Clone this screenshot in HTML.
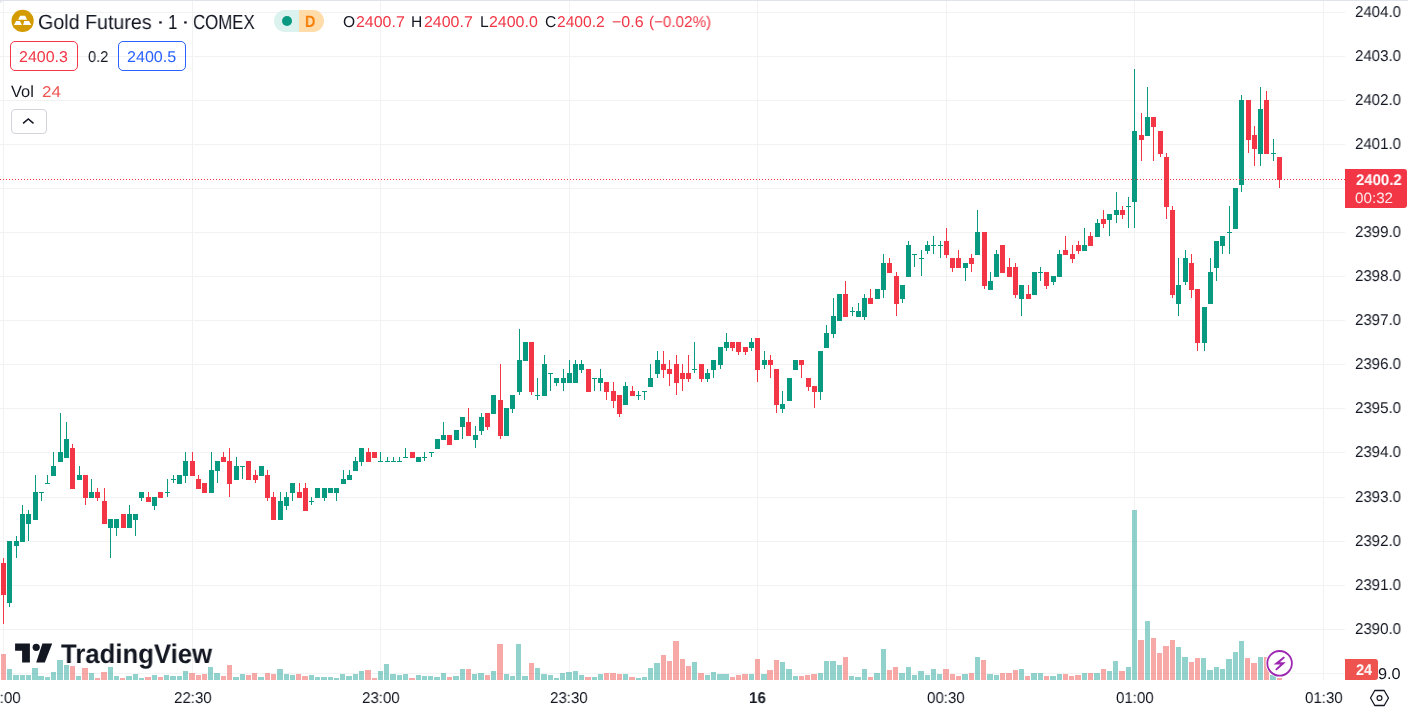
<!DOCTYPE html>
<html><head><meta charset="utf-8"><style>
*{margin:0;padding:0;box-sizing:border-box}
html,body{width:1408px;height:713px;overflow:hidden;background:#fff}
body{position:relative;font-family:"Liberation Sans",sans-serif;color:#131722;text-rendering:geometricPrecision}
.abs{position:absolute;white-space:nowrap}
.t{position:absolute;white-space:nowrap;transform-origin:0 0;color:#131722;will-change:transform}
</style></head><body>
<div class="abs" style="left:0;top:0;width:8px;height:8px;background:#e0e3eb"></div>
<div class="abs" style="left:0;top:1px;width:8px;height:8px;background:#fff;border-top-left-radius:4px"></div>
<svg class="abs" style="left:0;top:0" width="1408" height="713" shape-rendering="crispEdges">
<rect x="0" y="12" width="1345" height="1" fill="#f2f2f3"/>
<rect x="0" y="56" width="1345" height="1" fill="#f2f2f3"/>
<rect x="0" y="100" width="1345" height="1" fill="#f2f2f3"/>
<rect x="0" y="144" width="1345" height="1" fill="#f2f2f3"/>
<rect x="0" y="188" width="1345" height="1" fill="#f2f2f3"/>
<rect x="0" y="232" width="1345" height="1" fill="#f2f2f3"/>
<rect x="0" y="276" width="1345" height="1" fill="#f2f2f3"/>
<rect x="0" y="320" width="1345" height="1" fill="#f2f2f3"/>
<rect x="0" y="364" width="1345" height="1" fill="#f2f2f3"/>
<rect x="0" y="408" width="1345" height="1" fill="#f2f2f3"/>
<rect x="0" y="452" width="1345" height="1" fill="#f2f2f3"/>
<rect x="0" y="497" width="1345" height="1" fill="#f2f2f3"/>
<rect x="0" y="541" width="1345" height="1" fill="#f2f2f3"/>
<rect x="0" y="585" width="1345" height="1" fill="#f2f2f3"/>
<rect x="0" y="629" width="1345" height="1" fill="#f2f2f3"/>
<rect x="0" y="673" width="1345" height="1" fill="#f2f2f3"/>
<rect x="3" y="1" width="1" height="679" fill="#f2f2f3"/>
<rect x="192" y="1" width="1" height="679" fill="#f2f2f3"/>
<rect x="380" y="1" width="1" height="679" fill="#f2f2f3"/>
<rect x="569" y="1" width="1" height="679" fill="#f2f2f3"/>
<rect x="757" y="1" width="1" height="679" fill="#f2f2f3"/>
<rect x="946" y="1" width="1" height="679" fill="#f2f2f3"/>
<rect x="1134" y="1" width="1" height="679" fill="#f2f2f3"/>
<rect x="1323" y="1" width="1" height="679" fill="#f2f2f3"/>
<rect x="1" y="654" width="5" height="26" fill="#ef5350" fill-opacity="0.5"/>
<rect x="7" y="669" width="5" height="11" fill="#26a69a" fill-opacity="0.5"/>
<rect x="13" y="675" width="6" height="5" fill="#26a69a" fill-opacity="0.5"/>
<rect x="20" y="675" width="5" height="5" fill="#26a69a" fill-opacity="0.5"/>
<rect x="26" y="675" width="5" height="5" fill="#26a69a" fill-opacity="0.5"/>
<rect x="32" y="668" width="6" height="12" fill="#26a69a" fill-opacity="0.5"/>
<rect x="38" y="676" width="6" height="4" fill="#26a69a" fill-opacity="0.5"/>
<rect x="45" y="677" width="5" height="3" fill="#26a69a" fill-opacity="0.5"/>
<rect x="51" y="672" width="5" height="8" fill="#26a69a" fill-opacity="0.5"/>
<rect x="57" y="660" width="6" height="20" fill="#26a69a" fill-opacity="0.5"/>
<rect x="64" y="665" width="5" height="15" fill="#26a69a" fill-opacity="0.5"/>
<rect x="70" y="666" width="5" height="14" fill="#ef5350" fill-opacity="0.5"/>
<rect x="76" y="676" width="5" height="4" fill="#26a69a" fill-opacity="0.5"/>
<rect x="82" y="668" width="6" height="12" fill="#ef5350" fill-opacity="0.5"/>
<rect x="89" y="673" width="5" height="7" fill="#26a69a" fill-opacity="0.5"/>
<rect x="95" y="678" width="5" height="2" fill="#ef5350" fill-opacity="0.5"/>
<rect x="101" y="672" width="6" height="8" fill="#ef5350" fill-opacity="0.5"/>
<rect x="108" y="667" width="5" height="13" fill="#26a69a" fill-opacity="0.5"/>
<rect x="114" y="676" width="5" height="4" fill="#26a69a" fill-opacity="0.5"/>
<rect x="120" y="678" width="5" height="2" fill="#ef5350" fill-opacity="0.5"/>
<rect x="126" y="676" width="6" height="4" fill="#26a69a" fill-opacity="0.5"/>
<rect x="133" y="674" width="5" height="6" fill="#26a69a" fill-opacity="0.5"/>
<rect x="139" y="678" width="5" height="2" fill="#26a69a" fill-opacity="0.5"/>
<rect x="145" y="677" width="6" height="3" fill="#ef5350" fill-opacity="0.5"/>
<rect x="152" y="675" width="5" height="5" fill="#26a69a" fill-opacity="0.5"/>
<rect x="158" y="677" width="5" height="3" fill="#ef5350" fill-opacity="0.5"/>
<rect x="164" y="675" width="5" height="5" fill="#26a69a" fill-opacity="0.5"/>
<rect x="170" y="676" width="6" height="4" fill="#26a69a" fill-opacity="0.5"/>
<rect x="177" y="676" width="5" height="4" fill="#26a69a" fill-opacity="0.5"/>
<rect x="183" y="671" width="5" height="9" fill="#26a69a" fill-opacity="0.5"/>
<rect x="189" y="673" width="6" height="7" fill="#ef5350" fill-opacity="0.5"/>
<rect x="196" y="675" width="5" height="5" fill="#ef5350" fill-opacity="0.5"/>
<rect x="202" y="674" width="5" height="6" fill="#ef5350" fill-opacity="0.5"/>
<rect x="208" y="667" width="5" height="13" fill="#26a69a" fill-opacity="0.5"/>
<rect x="214" y="673" width="6" height="7" fill="#26a69a" fill-opacity="0.5"/>
<rect x="221" y="676" width="5" height="4" fill="#ef5350" fill-opacity="0.5"/>
<rect x="227" y="665" width="5" height="15" fill="#ef5350" fill-opacity="0.5"/>
<rect x="233" y="677" width="6" height="3" fill="#26a69a" fill-opacity="0.5"/>
<rect x="240" y="674" width="5" height="6" fill="#26a69a" fill-opacity="0.5"/>
<rect x="246" y="675" width="5" height="5" fill="#ef5350" fill-opacity="0.5"/>
<rect x="252" y="673" width="5" height="7" fill="#ef5350" fill-opacity="0.5"/>
<rect x="258" y="677" width="6" height="3" fill="#26a69a" fill-opacity="0.5"/>
<rect x="265" y="673" width="5" height="7" fill="#ef5350" fill-opacity="0.5"/>
<rect x="271" y="674" width="5" height="6" fill="#ef5350" fill-opacity="0.5"/>
<rect x="277" y="669" width="6" height="11" fill="#26a69a" fill-opacity="0.5"/>
<rect x="284" y="674" width="5" height="6" fill="#26a69a" fill-opacity="0.5"/>
<rect x="290" y="675" width="5" height="5" fill="#26a69a" fill-opacity="0.5"/>
<rect x="296" y="674" width="5" height="6" fill="#ef5350" fill-opacity="0.5"/>
<rect x="302" y="676" width="6" height="4" fill="#ef5350" fill-opacity="0.5"/>
<rect x="309" y="675" width="5" height="5" fill="#26a69a" fill-opacity="0.5"/>
<rect x="315" y="677" width="5" height="3" fill="#26a69a" fill-opacity="0.5"/>
<rect x="321" y="677" width="6" height="3" fill="#26a69a" fill-opacity="0.5"/>
<rect x="328" y="677" width="5" height="3" fill="#26a69a" fill-opacity="0.5"/>
<rect x="334" y="678" width="5" height="2" fill="#26a69a" fill-opacity="0.5"/>
<rect x="340" y="674" width="5" height="6" fill="#26a69a" fill-opacity="0.5"/>
<rect x="346" y="676" width="6" height="4" fill="#26a69a" fill-opacity="0.5"/>
<rect x="353" y="674" width="5" height="6" fill="#26a69a" fill-opacity="0.5"/>
<rect x="359" y="671" width="5" height="9" fill="#26a69a" fill-opacity="0.5"/>
<rect x="365" y="670" width="6" height="10" fill="#ef5350" fill-opacity="0.5"/>
<rect x="372" y="678" width="5" height="2" fill="#ef5350" fill-opacity="0.5"/>
<rect x="378" y="671" width="5" height="9" fill="#26a69a" fill-opacity="0.5"/>
<rect x="384" y="664" width="5" height="16" fill="#26a69a" fill-opacity="0.5"/>
<rect x="390" y="674" width="6" height="6" fill="#26a69a" fill-opacity="0.5"/>
<rect x="397" y="675" width="5" height="5" fill="#26a69a" fill-opacity="0.5"/>
<rect x="403" y="674" width="5" height="6" fill="#26a69a" fill-opacity="0.5"/>
<rect x="409" y="678" width="6" height="2" fill="#ef5350" fill-opacity="0.5"/>
<rect x="416" y="675" width="5" height="5" fill="#26a69a" fill-opacity="0.5"/>
<rect x="422" y="676" width="5" height="4" fill="#26a69a" fill-opacity="0.5"/>
<rect x="428" y="676" width="5" height="4" fill="#26a69a" fill-opacity="0.5"/>
<rect x="434" y="677" width="6" height="3" fill="#26a69a" fill-opacity="0.5"/>
<rect x="441" y="673" width="5" height="7" fill="#26a69a" fill-opacity="0.5"/>
<rect x="447" y="677" width="5" height="3" fill="#ef5350" fill-opacity="0.5"/>
<rect x="453" y="676" width="6" height="4" fill="#26a69a" fill-opacity="0.5"/>
<rect x="460" y="669" width="5" height="11" fill="#26a69a" fill-opacity="0.5"/>
<rect x="466" y="669" width="5" height="11" fill="#ef5350" fill-opacity="0.5"/>
<rect x="472" y="674" width="5" height="6" fill="#26a69a" fill-opacity="0.5"/>
<rect x="478" y="673" width="6" height="7" fill="#26a69a" fill-opacity="0.5"/>
<rect x="485" y="675" width="5" height="5" fill="#ef5350" fill-opacity="0.5"/>
<rect x="491" y="671" width="5" height="9" fill="#26a69a" fill-opacity="0.5"/>
<rect x="497" y="644" width="6" height="36" fill="#ef5350" fill-opacity="0.5"/>
<rect x="504" y="674" width="5" height="6" fill="#26a69a" fill-opacity="0.5"/>
<rect x="510" y="676" width="5" height="4" fill="#26a69a" fill-opacity="0.5"/>
<rect x="516" y="644" width="5" height="36" fill="#26a69a" fill-opacity="0.5"/>
<rect x="522" y="676" width="6" height="4" fill="#26a69a" fill-opacity="0.5"/>
<rect x="529" y="663" width="5" height="17" fill="#ef5350" fill-opacity="0.5"/>
<rect x="535" y="668" width="5" height="12" fill="#26a69a" fill-opacity="0.5"/>
<rect x="541" y="674" width="6" height="6" fill="#26a69a" fill-opacity="0.5"/>
<rect x="548" y="675" width="5" height="5" fill="#26a69a" fill-opacity="0.5"/>
<rect x="554" y="678" width="5" height="2" fill="#26a69a" fill-opacity="0.5"/>
<rect x="560" y="673" width="5" height="7" fill="#26a69a" fill-opacity="0.5"/>
<rect x="566" y="672" width="6" height="8" fill="#26a69a" fill-opacity="0.5"/>
<rect x="573" y="671" width="5" height="9" fill="#26a69a" fill-opacity="0.5"/>
<rect x="579" y="675" width="5" height="5" fill="#26a69a" fill-opacity="0.5"/>
<rect x="585" y="677" width="6" height="3" fill="#ef5350" fill-opacity="0.5"/>
<rect x="592" y="677" width="5" height="3" fill="#26a69a" fill-opacity="0.5"/>
<rect x="598" y="674" width="5" height="6" fill="#26a69a" fill-opacity="0.5"/>
<rect x="604" y="673" width="5" height="7" fill="#ef5350" fill-opacity="0.5"/>
<rect x="610" y="673" width="6" height="7" fill="#ef5350" fill-opacity="0.5"/>
<rect x="617" y="674" width="5" height="6" fill="#ef5350" fill-opacity="0.5"/>
<rect x="623" y="674" width="5" height="6" fill="#26a69a" fill-opacity="0.5"/>
<rect x="629" y="677" width="6" height="3" fill="#ef5350" fill-opacity="0.5"/>
<rect x="636" y="678" width="5" height="2" fill="#26a69a" fill-opacity="0.5"/>
<rect x="642" y="677" width="5" height="3" fill="#26a69a" fill-opacity="0.5"/>
<rect x="648" y="668" width="5" height="12" fill="#26a69a" fill-opacity="0.5"/>
<rect x="654" y="663" width="6" height="17" fill="#26a69a" fill-opacity="0.5"/>
<rect x="661" y="655" width="5" height="25" fill="#ef5350" fill-opacity="0.5"/>
<rect x="667" y="661" width="5" height="19" fill="#ef5350" fill-opacity="0.5"/>
<rect x="673" y="641" width="6" height="39" fill="#ef5350" fill-opacity="0.5"/>
<rect x="680" y="659" width="5" height="21" fill="#ef5350" fill-opacity="0.5"/>
<rect x="686" y="666" width="5" height="14" fill="#ef5350" fill-opacity="0.5"/>
<rect x="692" y="662" width="5" height="18" fill="#26a69a" fill-opacity="0.5"/>
<rect x="698" y="673" width="6" height="7" fill="#ef5350" fill-opacity="0.5"/>
<rect x="705" y="675" width="5" height="5" fill="#26a69a" fill-opacity="0.5"/>
<rect x="711" y="672" width="5" height="8" fill="#26a69a" fill-opacity="0.5"/>
<rect x="717" y="674" width="6" height="6" fill="#26a69a" fill-opacity="0.5"/>
<rect x="723" y="674" width="6" height="6" fill="#26a69a" fill-opacity="0.5"/>
<rect x="730" y="677" width="5" height="3" fill="#ef5350" fill-opacity="0.5"/>
<rect x="736" y="675" width="5" height="5" fill="#ef5350" fill-opacity="0.5"/>
<rect x="742" y="674" width="6" height="6" fill="#ef5350" fill-opacity="0.5"/>
<rect x="749" y="674" width="5" height="6" fill="#26a69a" fill-opacity="0.5"/>
<rect x="755" y="659" width="5" height="21" fill="#ef5350" fill-opacity="0.5"/>
<rect x="761" y="674" width="6" height="6" fill="#26a69a" fill-opacity="0.5"/>
<rect x="767" y="670" width="6" height="10" fill="#ef5350" fill-opacity="0.5"/>
<rect x="774" y="660" width="5" height="20" fill="#ef5350" fill-opacity="0.5"/>
<rect x="780" y="662" width="5" height="18" fill="#26a69a" fill-opacity="0.5"/>
<rect x="786" y="669" width="6" height="11" fill="#26a69a" fill-opacity="0.5"/>
<rect x="793" y="676" width="5" height="4" fill="#26a69a" fill-opacity="0.5"/>
<rect x="799" y="676" width="5" height="4" fill="#ef5350" fill-opacity="0.5"/>
<rect x="805" y="675" width="5" height="5" fill="#ef5350" fill-opacity="0.5"/>
<rect x="811" y="674" width="6" height="6" fill="#ef5350" fill-opacity="0.5"/>
<rect x="818" y="673" width="5" height="7" fill="#26a69a" fill-opacity="0.5"/>
<rect x="824" y="661" width="5" height="19" fill="#26a69a" fill-opacity="0.5"/>
<rect x="830" y="661" width="6" height="19" fill="#26a69a" fill-opacity="0.5"/>
<rect x="837" y="665" width="5" height="15" fill="#26a69a" fill-opacity="0.5"/>
<rect x="843" y="657" width="5" height="23" fill="#ef5350" fill-opacity="0.5"/>
<rect x="849" y="676" width="5" height="4" fill="#26a69a" fill-opacity="0.5"/>
<rect x="855" y="677" width="6" height="3" fill="#26a69a" fill-opacity="0.5"/>
<rect x="862" y="669" width="5" height="11" fill="#26a69a" fill-opacity="0.5"/>
<rect x="868" y="677" width="5" height="3" fill="#ef5350" fill-opacity="0.5"/>
<rect x="874" y="673" width="6" height="7" fill="#26a69a" fill-opacity="0.5"/>
<rect x="881" y="649" width="5" height="31" fill="#26a69a" fill-opacity="0.5"/>
<rect x="887" y="670" width="5" height="10" fill="#ef5350" fill-opacity="0.5"/>
<rect x="893" y="667" width="5" height="13" fill="#ef5350" fill-opacity="0.5"/>
<rect x="899" y="673" width="6" height="7" fill="#26a69a" fill-opacity="0.5"/>
<rect x="906" y="667" width="5" height="13" fill="#26a69a" fill-opacity="0.5"/>
<rect x="912" y="675" width="5" height="5" fill="#26a69a" fill-opacity="0.5"/>
<rect x="918" y="671" width="6" height="9" fill="#26a69a" fill-opacity="0.5"/>
<rect x="925" y="675" width="5" height="5" fill="#26a69a" fill-opacity="0.5"/>
<rect x="931" y="669" width="5" height="11" fill="#26a69a" fill-opacity="0.5"/>
<rect x="937" y="674" width="5" height="6" fill="#26a69a" fill-opacity="0.5"/>
<rect x="943" y="669" width="6" height="11" fill="#ef5350" fill-opacity="0.5"/>
<rect x="950" y="674" width="5" height="6" fill="#ef5350" fill-opacity="0.5"/>
<rect x="956" y="676" width="5" height="4" fill="#ef5350" fill-opacity="0.5"/>
<rect x="962" y="674" width="6" height="6" fill="#26a69a" fill-opacity="0.5"/>
<rect x="969" y="673" width="5" height="7" fill="#ef5350" fill-opacity="0.5"/>
<rect x="975" y="657" width="5" height="23" fill="#26a69a" fill-opacity="0.5"/>
<rect x="981" y="660" width="5" height="20" fill="#ef5350" fill-opacity="0.5"/>
<rect x="987" y="674" width="6" height="6" fill="#26a69a" fill-opacity="0.5"/>
<rect x="994" y="675" width="5" height="5" fill="#26a69a" fill-opacity="0.5"/>
<rect x="1000" y="673" width="5" height="7" fill="#ef5350" fill-opacity="0.5"/>
<rect x="1006" y="673" width="6" height="7" fill="#ef5350" fill-opacity="0.5"/>
<rect x="1013" y="670" width="5" height="10" fill="#ef5350" fill-opacity="0.5"/>
<rect x="1019" y="669" width="5" height="11" fill="#26a69a" fill-opacity="0.5"/>
<rect x="1025" y="676" width="5" height="4" fill="#ef5350" fill-opacity="0.5"/>
<rect x="1031" y="673" width="6" height="7" fill="#26a69a" fill-opacity="0.5"/>
<rect x="1038" y="673" width="5" height="7" fill="#26a69a" fill-opacity="0.5"/>
<rect x="1044" y="676" width="5" height="4" fill="#ef5350" fill-opacity="0.5"/>
<rect x="1050" y="676" width="6" height="4" fill="#26a69a" fill-opacity="0.5"/>
<rect x="1057" y="674" width="5" height="6" fill="#26a69a" fill-opacity="0.5"/>
<rect x="1063" y="674" width="5" height="6" fill="#ef5350" fill-opacity="0.5"/>
<rect x="1069" y="676" width="5" height="4" fill="#ef5350" fill-opacity="0.5"/>
<rect x="1075" y="675" width="6" height="5" fill="#ef5350" fill-opacity="0.5"/>
<rect x="1082" y="673" width="5" height="7" fill="#26a69a" fill-opacity="0.5"/>
<rect x="1088" y="673" width="5" height="7" fill="#ef5350" fill-opacity="0.5"/>
<rect x="1094" y="673" width="6" height="7" fill="#26a69a" fill-opacity="0.5"/>
<rect x="1101" y="669" width="5" height="11" fill="#ef5350" fill-opacity="0.5"/>
<rect x="1107" y="671" width="5" height="9" fill="#26a69a" fill-opacity="0.5"/>
<rect x="1113" y="661" width="5" height="19" fill="#26a69a" fill-opacity="0.5"/>
<rect x="1119" y="671" width="6" height="9" fill="#ef5350" fill-opacity="0.5"/>
<rect x="1126" y="667" width="5" height="13" fill="#26a69a" fill-opacity="0.5"/>
<rect x="1132" y="510" width="5" height="170" fill="#26a69a" fill-opacity="0.5"/>
<rect x="1138" y="640" width="6" height="40" fill="#ef5350" fill-opacity="0.5"/>
<rect x="1145" y="621" width="5" height="59" fill="#26a69a" fill-opacity="0.5"/>
<rect x="1151" y="638" width="5" height="42" fill="#ef5350" fill-opacity="0.5"/>
<rect x="1157" y="653" width="5" height="27" fill="#ef5350" fill-opacity="0.5"/>
<rect x="1163" y="646" width="6" height="34" fill="#ef5350" fill-opacity="0.5"/>
<rect x="1170" y="640" width="5" height="40" fill="#ef5350" fill-opacity="0.5"/>
<rect x="1176" y="647" width="5" height="33" fill="#26a69a" fill-opacity="0.5"/>
<rect x="1182" y="657" width="6" height="23" fill="#26a69a" fill-opacity="0.5"/>
<rect x="1189" y="662" width="5" height="18" fill="#ef5350" fill-opacity="0.5"/>
<rect x="1195" y="658" width="5" height="22" fill="#ef5350" fill-opacity="0.5"/>
<rect x="1201" y="658" width="5" height="22" fill="#26a69a" fill-opacity="0.5"/>
<rect x="1207" y="670" width="6" height="10" fill="#26a69a" fill-opacity="0.5"/>
<rect x="1214" y="667" width="5" height="13" fill="#26a69a" fill-opacity="0.5"/>
<rect x="1220" y="669" width="5" height="11" fill="#26a69a" fill-opacity="0.5"/>
<rect x="1226" y="659" width="6" height="21" fill="#26a69a" fill-opacity="0.5"/>
<rect x="1233" y="652" width="5" height="28" fill="#26a69a" fill-opacity="0.5"/>
<rect x="1239" y="641" width="5" height="39" fill="#26a69a" fill-opacity="0.5"/>
<rect x="1245" y="658" width="5" height="22" fill="#ef5350" fill-opacity="0.5"/>
<rect x="1251" y="663" width="6" height="17" fill="#ef5350" fill-opacity="0.5"/>
<rect x="1258" y="657" width="5" height="23" fill="#26a69a" fill-opacity="0.5"/>
<rect x="1264" y="657" width="5" height="23" fill="#ef5350" fill-opacity="0.5"/>
<rect x="1270" y="675" width="6" height="5" fill="#26a69a" fill-opacity="0.5"/>
<rect x="1277" y="678" width="5" height="2" fill="#ef5350" fill-opacity="0.5"/>
<rect x="3" y="558" width="1" height="66" fill="#f23645"/>
<rect x="1" y="563" width="5" height="32" fill="#f23645"/>
<rect x="9" y="541" width="1" height="66" fill="#089981"/>
<rect x="7" y="541" width="5" height="62" fill="#089981"/>
<rect x="16" y="536" width="1" height="22" fill="#089981"/>
<rect x="14" y="541" width="5" height="5" fill="#089981"/>
<rect x="22" y="505" width="1" height="37" fill="#089981"/>
<rect x="20" y="514" width="5" height="28" fill="#089981"/>
<rect x="28" y="510" width="1" height="31" fill="#089981"/>
<rect x="26" y="514" width="5" height="10" fill="#089981"/>
<rect x="35" y="475" width="1" height="45" fill="#089981"/>
<rect x="33" y="492" width="5" height="28" fill="#089981"/>
<rect x="41" y="492" width="1" height="9" fill="#089981"/>
<rect x="39" y="492" width="5" height="1" fill="#089981"/>
<rect x="47" y="475" width="1" height="9" fill="#089981"/>
<rect x="45" y="483" width="5" height="1" fill="#089981"/>
<rect x="53" y="452" width="1" height="24" fill="#089981"/>
<rect x="51" y="466" width="5" height="10" fill="#089981"/>
<rect x="60" y="413" width="1" height="49" fill="#089981"/>
<rect x="58" y="452" width="5" height="10" fill="#089981"/>
<rect x="66" y="422" width="1" height="36" fill="#089981"/>
<rect x="64" y="439" width="5" height="19" fill="#089981"/>
<rect x="72" y="444" width="1" height="45" fill="#f23645"/>
<rect x="70" y="448" width="5" height="41" fill="#f23645"/>
<rect x="79" y="466" width="1" height="14" fill="#089981"/>
<rect x="77" y="475" width="5" height="5" fill="#089981"/>
<rect x="85" y="475" width="1" height="30" fill="#f23645"/>
<rect x="83" y="475" width="5" height="23" fill="#f23645"/>
<rect x="91" y="479" width="1" height="19" fill="#089981"/>
<rect x="89" y="492" width="5" height="6" fill="#089981"/>
<rect x="97" y="488" width="1" height="13" fill="#f23645"/>
<rect x="95" y="492" width="5" height="6" fill="#f23645"/>
<rect x="104" y="488" width="1" height="36" fill="#f23645"/>
<rect x="102" y="501" width="5" height="23" fill="#f23645"/>
<rect x="110" y="519" width="1" height="39" fill="#089981"/>
<rect x="108" y="519" width="5" height="9" fill="#089981"/>
<rect x="116" y="519" width="1" height="17" fill="#089981"/>
<rect x="114" y="519" width="5" height="9" fill="#089981"/>
<rect x="123" y="514" width="1" height="14" fill="#f23645"/>
<rect x="121" y="514" width="5" height="14" fill="#f23645"/>
<rect x="129" y="505" width="1" height="23" fill="#089981"/>
<rect x="127" y="514" width="5" height="14" fill="#089981"/>
<rect x="135" y="514" width="1" height="22" fill="#089981"/>
<rect x="133" y="514" width="5" height="6" fill="#089981"/>
<rect x="141" y="492" width="1" height="9" fill="#089981"/>
<rect x="139" y="492" width="5" height="6" fill="#089981"/>
<rect x="148" y="492" width="1" height="10" fill="#f23645"/>
<rect x="146" y="497" width="5" height="5" fill="#f23645"/>
<rect x="154" y="497" width="1" height="13" fill="#089981"/>
<rect x="152" y="497" width="5" height="9" fill="#089981"/>
<rect x="160" y="492" width="1" height="6" fill="#f23645"/>
<rect x="158" y="492" width="5" height="6" fill="#f23645"/>
<rect x="167" y="479" width="1" height="18" fill="#089981"/>
<rect x="165" y="492" width="5" height="1" fill="#089981"/>
<rect x="173" y="475" width="1" height="8" fill="#089981"/>
<rect x="171" y="479" width="5" height="1" fill="#089981"/>
<rect x="179" y="475" width="1" height="9" fill="#089981"/>
<rect x="177" y="475" width="5" height="9" fill="#089981"/>
<rect x="185" y="452" width="1" height="31" fill="#089981"/>
<rect x="183" y="461" width="5" height="15" fill="#089981"/>
<rect x="192" y="452" width="1" height="24" fill="#f23645"/>
<rect x="190" y="461" width="5" height="15" fill="#f23645"/>
<rect x="198" y="475" width="1" height="14" fill="#f23645"/>
<rect x="196" y="479" width="5" height="10" fill="#f23645"/>
<rect x="204" y="483" width="1" height="10" fill="#f23645"/>
<rect x="202" y="483" width="5" height="10" fill="#f23645"/>
<rect x="211" y="452" width="1" height="41" fill="#089981"/>
<rect x="209" y="470" width="5" height="23" fill="#089981"/>
<rect x="217" y="461" width="1" height="22" fill="#089981"/>
<rect x="215" y="461" width="5" height="10" fill="#089981"/>
<rect x="223" y="452" width="1" height="10" fill="#f23645"/>
<rect x="221" y="457" width="5" height="5" fill="#f23645"/>
<rect x="229" y="448" width="1" height="49" fill="#f23645"/>
<rect x="227" y="461" width="5" height="23" fill="#f23645"/>
<rect x="236" y="457" width="1" height="23" fill="#089981"/>
<rect x="234" y="466" width="5" height="14" fill="#089981"/>
<rect x="242" y="466" width="1" height="13" fill="#089981"/>
<rect x="240" y="466" width="5" height="1" fill="#089981"/>
<rect x="248" y="461" width="1" height="19" fill="#f23645"/>
<rect x="246" y="461" width="5" height="19" fill="#f23645"/>
<rect x="255" y="470" width="1" height="13" fill="#f23645"/>
<rect x="253" y="475" width="5" height="5" fill="#f23645"/>
<rect x="261" y="466" width="1" height="10" fill="#089981"/>
<rect x="259" y="466" width="5" height="10" fill="#089981"/>
<rect x="267" y="470" width="1" height="31" fill="#f23645"/>
<rect x="265" y="475" width="5" height="23" fill="#f23645"/>
<rect x="273" y="492" width="1" height="28" fill="#f23645"/>
<rect x="271" y="497" width="5" height="23" fill="#f23645"/>
<rect x="280" y="492" width="1" height="28" fill="#089981"/>
<rect x="278" y="501" width="5" height="19" fill="#089981"/>
<rect x="286" y="492" width="1" height="18" fill="#089981"/>
<rect x="284" y="497" width="5" height="9" fill="#089981"/>
<rect x="292" y="483" width="1" height="18" fill="#089981"/>
<rect x="290" y="483" width="5" height="10" fill="#089981"/>
<rect x="299" y="483" width="1" height="15" fill="#f23645"/>
<rect x="297" y="492" width="5" height="6" fill="#f23645"/>
<rect x="305" y="483" width="1" height="28" fill="#f23645"/>
<rect x="303" y="488" width="5" height="23" fill="#f23645"/>
<rect x="311" y="497" width="1" height="8" fill="#089981"/>
<rect x="309" y="501" width="5" height="1" fill="#089981"/>
<rect x="317" y="488" width="1" height="10" fill="#089981"/>
<rect x="315" y="488" width="5" height="10" fill="#089981"/>
<rect x="324" y="488" width="1" height="13" fill="#089981"/>
<rect x="322" y="488" width="5" height="10" fill="#089981"/>
<rect x="330" y="488" width="1" height="5" fill="#089981"/>
<rect x="328" y="488" width="5" height="5" fill="#089981"/>
<rect x="336" y="488" width="1" height="13" fill="#089981"/>
<rect x="334" y="488" width="5" height="5" fill="#089981"/>
<rect x="343" y="470" width="1" height="14" fill="#089981"/>
<rect x="341" y="479" width="5" height="5" fill="#089981"/>
<rect x="349" y="470" width="1" height="10" fill="#089981"/>
<rect x="347" y="475" width="5" height="5" fill="#089981"/>
<rect x="355" y="457" width="1" height="14" fill="#089981"/>
<rect x="353" y="461" width="5" height="10" fill="#089981"/>
<rect x="361" y="448" width="1" height="18" fill="#089981"/>
<rect x="359" y="448" width="5" height="14" fill="#089981"/>
<rect x="368" y="448" width="1" height="14" fill="#f23645"/>
<rect x="366" y="452" width="5" height="10" fill="#f23645"/>
<rect x="374" y="452" width="1" height="6" fill="#f23645"/>
<rect x="372" y="452" width="5" height="6" fill="#f23645"/>
<rect x="380" y="452" width="1" height="10" fill="#089981"/>
<rect x="378" y="461" width="5" height="1" fill="#089981"/>
<rect x="387" y="457" width="1" height="5" fill="#089981"/>
<rect x="385" y="461" width="5" height="1" fill="#089981"/>
<rect x="393" y="457" width="1" height="5" fill="#089981"/>
<rect x="391" y="461" width="5" height="1" fill="#089981"/>
<rect x="399" y="457" width="1" height="5" fill="#089981"/>
<rect x="397" y="461" width="5" height="1" fill="#089981"/>
<rect x="405" y="448" width="1" height="10" fill="#089981"/>
<rect x="403" y="457" width="5" height="1" fill="#089981"/>
<rect x="412" y="452" width="1" height="6" fill="#f23645"/>
<rect x="410" y="452" width="5" height="6" fill="#f23645"/>
<rect x="418" y="457" width="1" height="5" fill="#089981"/>
<rect x="416" y="457" width="5" height="5" fill="#089981"/>
<rect x="424" y="452" width="1" height="9" fill="#089981"/>
<rect x="422" y="457" width="5" height="1" fill="#089981"/>
<rect x="431" y="452" width="1" height="5" fill="#089981"/>
<rect x="429" y="452" width="5" height="1" fill="#089981"/>
<rect x="437" y="439" width="1" height="10" fill="#089981"/>
<rect x="435" y="439" width="5" height="10" fill="#089981"/>
<rect x="443" y="422" width="1" height="18" fill="#089981"/>
<rect x="441" y="435" width="5" height="5" fill="#089981"/>
<rect x="449" y="435" width="1" height="10" fill="#f23645"/>
<rect x="447" y="435" width="5" height="10" fill="#f23645"/>
<rect x="456" y="430" width="1" height="10" fill="#089981"/>
<rect x="454" y="430" width="5" height="10" fill="#089981"/>
<rect x="462" y="417" width="1" height="22" fill="#089981"/>
<rect x="460" y="417" width="5" height="10" fill="#089981"/>
<rect x="468" y="408" width="1" height="28" fill="#f23645"/>
<rect x="466" y="422" width="5" height="14" fill="#f23645"/>
<rect x="475" y="426" width="1" height="22" fill="#089981"/>
<rect x="473" y="435" width="5" height="5" fill="#089981"/>
<rect x="481" y="413" width="1" height="22" fill="#089981"/>
<rect x="479" y="417" width="5" height="14" fill="#089981"/>
<rect x="487" y="413" width="1" height="17" fill="#f23645"/>
<rect x="485" y="413" width="5" height="14" fill="#f23645"/>
<rect x="493" y="395" width="1" height="19" fill="#089981"/>
<rect x="491" y="395" width="5" height="19" fill="#089981"/>
<rect x="500" y="364" width="1" height="75" fill="#f23645"/>
<rect x="498" y="400" width="5" height="36" fill="#f23645"/>
<rect x="506" y="408" width="1" height="28" fill="#089981"/>
<rect x="504" y="408" width="5" height="28" fill="#089981"/>
<rect x="512" y="395" width="1" height="18" fill="#089981"/>
<rect x="510" y="395" width="5" height="14" fill="#089981"/>
<rect x="519" y="329" width="1" height="66" fill="#089981"/>
<rect x="517" y="360" width="5" height="32" fill="#089981"/>
<rect x="525" y="342" width="1" height="19" fill="#089981"/>
<rect x="523" y="342" width="5" height="19" fill="#089981"/>
<rect x="531" y="342" width="1" height="53" fill="#f23645"/>
<rect x="529" y="342" width="5" height="50" fill="#f23645"/>
<rect x="537" y="378" width="1" height="22" fill="#089981"/>
<rect x="535" y="395" width="5" height="1" fill="#089981"/>
<rect x="544" y="355" width="1" height="41" fill="#089981"/>
<rect x="542" y="364" width="5" height="32" fill="#089981"/>
<rect x="550" y="373" width="1" height="18" fill="#089981"/>
<rect x="548" y="373" width="5" height="1" fill="#089981"/>
<rect x="556" y="378" width="1" height="8" fill="#089981"/>
<rect x="554" y="378" width="5" height="5" fill="#089981"/>
<rect x="563" y="369" width="1" height="22" fill="#089981"/>
<rect x="561" y="378" width="5" height="5" fill="#089981"/>
<rect x="569" y="360" width="1" height="23" fill="#089981"/>
<rect x="567" y="373" width="5" height="10" fill="#089981"/>
<rect x="575" y="360" width="1" height="23" fill="#089981"/>
<rect x="573" y="364" width="5" height="19" fill="#089981"/>
<rect x="581" y="360" width="1" height="13" fill="#089981"/>
<rect x="579" y="364" width="5" height="6" fill="#089981"/>
<rect x="588" y="369" width="1" height="23" fill="#f23645"/>
<rect x="586" y="369" width="5" height="23" fill="#f23645"/>
<rect x="594" y="378" width="1" height="13" fill="#089981"/>
<rect x="592" y="378" width="5" height="1" fill="#089981"/>
<rect x="600" y="369" width="1" height="22" fill="#089981"/>
<rect x="598" y="378" width="5" height="5" fill="#089981"/>
<rect x="606" y="382" width="1" height="18" fill="#f23645"/>
<rect x="604" y="382" width="5" height="10" fill="#f23645"/>
<rect x="613" y="382" width="1" height="26" fill="#f23645"/>
<rect x="611" y="391" width="5" height="10" fill="#f23645"/>
<rect x="619" y="395" width="1" height="22" fill="#f23645"/>
<rect x="617" y="395" width="5" height="19" fill="#f23645"/>
<rect x="625" y="382" width="1" height="23" fill="#089981"/>
<rect x="623" y="386" width="5" height="19" fill="#089981"/>
<rect x="632" y="386" width="1" height="10" fill="#f23645"/>
<rect x="630" y="391" width="5" height="5" fill="#f23645"/>
<rect x="638" y="391" width="1" height="9" fill="#089981"/>
<rect x="636" y="395" width="5" height="1" fill="#089981"/>
<rect x="644" y="391" width="1" height="9" fill="#089981"/>
<rect x="642" y="391" width="5" height="1" fill="#089981"/>
<rect x="650" y="364" width="1" height="23" fill="#089981"/>
<rect x="648" y="378" width="5" height="9" fill="#089981"/>
<rect x="657" y="351" width="1" height="27" fill="#089981"/>
<rect x="655" y="360" width="5" height="14" fill="#089981"/>
<rect x="663" y="351" width="1" height="27" fill="#f23645"/>
<rect x="661" y="364" width="5" height="6" fill="#f23645"/>
<rect x="669" y="360" width="1" height="26" fill="#f23645"/>
<rect x="667" y="369" width="5" height="5" fill="#f23645"/>
<rect x="676" y="355" width="1" height="40" fill="#f23645"/>
<rect x="674" y="364" width="5" height="19" fill="#f23645"/>
<rect x="682" y="364" width="1" height="27" fill="#f23645"/>
<rect x="680" y="373" width="5" height="6" fill="#f23645"/>
<rect x="688" y="355" width="1" height="27" fill="#f23645"/>
<rect x="686" y="373" width="5" height="6" fill="#f23645"/>
<rect x="694" y="342" width="1" height="31" fill="#089981"/>
<rect x="692" y="369" width="5" height="1" fill="#089981"/>
<rect x="701" y="364" width="1" height="18" fill="#f23645"/>
<rect x="699" y="364" width="5" height="15" fill="#f23645"/>
<rect x="707" y="369" width="1" height="13" fill="#089981"/>
<rect x="705" y="373" width="5" height="6" fill="#089981"/>
<rect x="713" y="360" width="1" height="18" fill="#089981"/>
<rect x="711" y="360" width="5" height="10" fill="#089981"/>
<rect x="720" y="347" width="1" height="22" fill="#089981"/>
<rect x="718" y="347" width="5" height="18" fill="#089981"/>
<rect x="726" y="333" width="1" height="18" fill="#089981"/>
<rect x="724" y="342" width="5" height="6" fill="#089981"/>
<rect x="732" y="342" width="1" height="9" fill="#f23645"/>
<rect x="730" y="342" width="5" height="6" fill="#f23645"/>
<rect x="738" y="342" width="1" height="13" fill="#f23645"/>
<rect x="736" y="342" width="5" height="10" fill="#f23645"/>
<rect x="745" y="347" width="1" height="8" fill="#f23645"/>
<rect x="743" y="347" width="5" height="5" fill="#f23645"/>
<rect x="751" y="338" width="1" height="13" fill="#089981"/>
<rect x="749" y="342" width="5" height="6" fill="#089981"/>
<rect x="757" y="338" width="1" height="44" fill="#f23645"/>
<rect x="755" y="338" width="5" height="32" fill="#f23645"/>
<rect x="764" y="351" width="1" height="18" fill="#089981"/>
<rect x="762" y="360" width="5" height="5" fill="#089981"/>
<rect x="770" y="355" width="1" height="23" fill="#f23645"/>
<rect x="768" y="360" width="5" height="5" fill="#f23645"/>
<rect x="776" y="369" width="1" height="44" fill="#f23645"/>
<rect x="774" y="369" width="5" height="36" fill="#f23645"/>
<rect x="782" y="391" width="1" height="22" fill="#089981"/>
<rect x="780" y="404" width="5" height="5" fill="#089981"/>
<rect x="789" y="378" width="1" height="23" fill="#089981"/>
<rect x="787" y="378" width="5" height="23" fill="#089981"/>
<rect x="795" y="360" width="1" height="10" fill="#089981"/>
<rect x="793" y="360" width="5" height="10" fill="#089981"/>
<rect x="801" y="360" width="1" height="18" fill="#f23645"/>
<rect x="799" y="360" width="5" height="5" fill="#f23645"/>
<rect x="808" y="378" width="1" height="13" fill="#f23645"/>
<rect x="806" y="378" width="5" height="9" fill="#f23645"/>
<rect x="814" y="386" width="1" height="22" fill="#f23645"/>
<rect x="812" y="386" width="5" height="6" fill="#f23645"/>
<rect x="820" y="351" width="1" height="49" fill="#089981"/>
<rect x="818" y="351" width="5" height="41" fill="#089981"/>
<rect x="826" y="325" width="1" height="23" fill="#089981"/>
<rect x="824" y="333" width="5" height="15" fill="#089981"/>
<rect x="833" y="298" width="1" height="40" fill="#089981"/>
<rect x="831" y="316" width="5" height="18" fill="#089981"/>
<rect x="839" y="294" width="1" height="27" fill="#089981"/>
<rect x="837" y="294" width="5" height="27" fill="#089981"/>
<rect x="845" y="281" width="1" height="36" fill="#f23645"/>
<rect x="843" y="294" width="5" height="23" fill="#f23645"/>
<rect x="852" y="307" width="1" height="9" fill="#089981"/>
<rect x="850" y="311" width="5" height="1" fill="#089981"/>
<rect x="858" y="303" width="1" height="14" fill="#089981"/>
<rect x="856" y="311" width="5" height="6" fill="#089981"/>
<rect x="864" y="294" width="1" height="26" fill="#089981"/>
<rect x="862" y="298" width="5" height="19" fill="#089981"/>
<rect x="870" y="289" width="1" height="15" fill="#f23645"/>
<rect x="868" y="298" width="5" height="6" fill="#f23645"/>
<rect x="877" y="289" width="1" height="10" fill="#089981"/>
<rect x="875" y="289" width="5" height="10" fill="#089981"/>
<rect x="883" y="254" width="1" height="44" fill="#089981"/>
<rect x="881" y="263" width="5" height="27" fill="#089981"/>
<rect x="889" y="258" width="1" height="15" fill="#f23645"/>
<rect x="887" y="263" width="5" height="10" fill="#f23645"/>
<rect x="896" y="272" width="1" height="44" fill="#f23645"/>
<rect x="894" y="276" width="5" height="28" fill="#f23645"/>
<rect x="902" y="285" width="1" height="18" fill="#089981"/>
<rect x="900" y="285" width="5" height="14" fill="#089981"/>
<rect x="908" y="241" width="1" height="36" fill="#089981"/>
<rect x="906" y="245" width="5" height="32" fill="#089981"/>
<rect x="914" y="254" width="1" height="13" fill="#089981"/>
<rect x="912" y="254" width="5" height="1" fill="#089981"/>
<rect x="921" y="250" width="1" height="26" fill="#089981"/>
<rect x="919" y="258" width="5" height="1" fill="#089981"/>
<rect x="927" y="241" width="1" height="13" fill="#089981"/>
<rect x="925" y="245" width="5" height="6" fill="#089981"/>
<rect x="933" y="236" width="1" height="18" fill="#089981"/>
<rect x="931" y="245" width="5" height="1" fill="#089981"/>
<rect x="940" y="241" width="1" height="17" fill="#089981"/>
<rect x="938" y="245" width="5" height="1" fill="#089981"/>
<rect x="946" y="228" width="1" height="30" fill="#f23645"/>
<rect x="944" y="241" width="5" height="14" fill="#f23645"/>
<rect x="952" y="258" width="1" height="14" fill="#f23645"/>
<rect x="950" y="258" width="5" height="10" fill="#f23645"/>
<rect x="958" y="250" width="1" height="18" fill="#f23645"/>
<rect x="956" y="258" width="5" height="10" fill="#f23645"/>
<rect x="965" y="263" width="1" height="18" fill="#089981"/>
<rect x="963" y="263" width="5" height="5" fill="#089981"/>
<rect x="971" y="254" width="1" height="18" fill="#f23645"/>
<rect x="969" y="258" width="5" height="6" fill="#f23645"/>
<rect x="977" y="210" width="1" height="45" fill="#089981"/>
<rect x="975" y="232" width="5" height="23" fill="#089981"/>
<rect x="984" y="232" width="1" height="57" fill="#f23645"/>
<rect x="982" y="232" width="5" height="54" fill="#f23645"/>
<rect x="990" y="272" width="1" height="18" fill="#089981"/>
<rect x="988" y="281" width="5" height="9" fill="#089981"/>
<rect x="996" y="250" width="1" height="27" fill="#089981"/>
<rect x="994" y="254" width="5" height="23" fill="#089981"/>
<rect x="1002" y="245" width="1" height="28" fill="#f23645"/>
<rect x="1000" y="245" width="5" height="28" fill="#f23645"/>
<rect x="1009" y="258" width="1" height="19" fill="#f23645"/>
<rect x="1007" y="267" width="5" height="10" fill="#f23645"/>
<rect x="1015" y="263" width="1" height="35" fill="#f23645"/>
<rect x="1013" y="267" width="5" height="28" fill="#f23645"/>
<rect x="1021" y="285" width="1" height="31" fill="#089981"/>
<rect x="1019" y="285" width="5" height="14" fill="#089981"/>
<rect x="1028" y="285" width="1" height="14" fill="#f23645"/>
<rect x="1026" y="294" width="5" height="5" fill="#f23645"/>
<rect x="1034" y="272" width="1" height="23" fill="#089981"/>
<rect x="1032" y="272" width="5" height="23" fill="#089981"/>
<rect x="1040" y="267" width="1" height="14" fill="#089981"/>
<rect x="1038" y="272" width="5" height="1" fill="#089981"/>
<rect x="1046" y="272" width="1" height="17" fill="#f23645"/>
<rect x="1044" y="272" width="5" height="14" fill="#f23645"/>
<rect x="1053" y="276" width="1" height="9" fill="#089981"/>
<rect x="1051" y="276" width="5" height="6" fill="#089981"/>
<rect x="1059" y="250" width="1" height="27" fill="#089981"/>
<rect x="1057" y="254" width="5" height="23" fill="#089981"/>
<rect x="1065" y="236" width="1" height="19" fill="#f23645"/>
<rect x="1063" y="250" width="5" height="5" fill="#f23645"/>
<rect x="1072" y="245" width="1" height="18" fill="#f23645"/>
<rect x="1070" y="254" width="5" height="5" fill="#f23645"/>
<rect x="1078" y="241" width="1" height="13" fill="#f23645"/>
<rect x="1076" y="245" width="5" height="6" fill="#f23645"/>
<rect x="1084" y="228" width="1" height="23" fill="#089981"/>
<rect x="1082" y="245" width="5" height="6" fill="#089981"/>
<rect x="1090" y="232" width="1" height="14" fill="#f23645"/>
<rect x="1088" y="236" width="5" height="10" fill="#f23645"/>
<rect x="1097" y="219" width="1" height="18" fill="#089981"/>
<rect x="1095" y="223" width="5" height="14" fill="#089981"/>
<rect x="1103" y="210" width="1" height="18" fill="#f23645"/>
<rect x="1101" y="219" width="5" height="5" fill="#f23645"/>
<rect x="1109" y="214" width="1" height="22" fill="#089981"/>
<rect x="1107" y="214" width="5" height="6" fill="#089981"/>
<rect x="1116" y="192" width="1" height="31" fill="#089981"/>
<rect x="1114" y="210" width="5" height="5" fill="#089981"/>
<rect x="1122" y="206" width="1" height="13" fill="#f23645"/>
<rect x="1120" y="210" width="5" height="5" fill="#f23645"/>
<rect x="1128" y="197" width="1" height="31" fill="#089981"/>
<rect x="1126" y="206" width="5" height="1" fill="#089981"/>
<rect x="1134" y="69" width="1" height="159" fill="#089981"/>
<rect x="1132" y="131" width="5" height="71" fill="#089981"/>
<rect x="1141" y="113" width="1" height="48" fill="#f23645"/>
<rect x="1139" y="135" width="5" height="5" fill="#f23645"/>
<rect x="1147" y="87" width="1" height="49" fill="#089981"/>
<rect x="1145" y="117" width="5" height="19" fill="#089981"/>
<rect x="1153" y="117" width="1" height="44" fill="#f23645"/>
<rect x="1151" y="117" width="5" height="10" fill="#f23645"/>
<rect x="1160" y="131" width="1" height="26" fill="#f23645"/>
<rect x="1158" y="131" width="5" height="23" fill="#f23645"/>
<rect x="1166" y="153" width="1" height="66" fill="#f23645"/>
<rect x="1164" y="157" width="5" height="50" fill="#f23645"/>
<rect x="1172" y="206" width="1" height="92" fill="#f23645"/>
<rect x="1170" y="210" width="5" height="85" fill="#f23645"/>
<rect x="1178" y="258" width="1" height="58" fill="#089981"/>
<rect x="1176" y="285" width="5" height="19" fill="#089981"/>
<rect x="1185" y="250" width="1" height="35" fill="#089981"/>
<rect x="1183" y="258" width="5" height="24" fill="#089981"/>
<rect x="1191" y="254" width="1" height="44" fill="#f23645"/>
<rect x="1189" y="263" width="5" height="27" fill="#f23645"/>
<rect x="1197" y="289" width="1" height="62" fill="#f23645"/>
<rect x="1195" y="289" width="5" height="54" fill="#f23645"/>
<rect x="1204" y="307" width="1" height="44" fill="#089981"/>
<rect x="1202" y="307" width="5" height="36" fill="#089981"/>
<rect x="1210" y="258" width="1" height="46" fill="#089981"/>
<rect x="1208" y="272" width="5" height="32" fill="#089981"/>
<rect x="1216" y="241" width="1" height="40" fill="#089981"/>
<rect x="1214" y="241" width="5" height="27" fill="#089981"/>
<rect x="1222" y="236" width="1" height="18" fill="#089981"/>
<rect x="1220" y="236" width="5" height="10" fill="#089981"/>
<rect x="1229" y="206" width="1" height="48" fill="#089981"/>
<rect x="1227" y="232" width="5" height="1" fill="#089981"/>
<rect x="1235" y="188" width="1" height="41" fill="#089981"/>
<rect x="1233" y="188" width="5" height="41" fill="#089981"/>
<rect x="1241" y="95" width="1" height="97" fill="#089981"/>
<rect x="1239" y="100" width="5" height="85" fill="#089981"/>
<rect x="1248" y="100" width="1" height="53" fill="#f23645"/>
<rect x="1246" y="100" width="5" height="40" fill="#f23645"/>
<rect x="1254" y="126" width="1" height="40" fill="#f23645"/>
<rect x="1252" y="135" width="5" height="14" fill="#f23645"/>
<rect x="1260" y="87" width="1" height="79" fill="#089981"/>
<rect x="1258" y="109" width="5" height="45" fill="#089981"/>
<rect x="1266" y="91" width="1" height="63" fill="#f23645"/>
<rect x="1264" y="100" width="5" height="54" fill="#f23645"/>
<rect x="1273" y="139" width="1" height="22" fill="#089981"/>
<rect x="1271" y="153" width="5" height="1" fill="#089981"/>
<rect x="1279" y="157" width="1" height="31" fill="#f23645"/>
<rect x="1277" y="157" width="5" height="23" fill="#f23645"/>
<line x1="0" y1="179.5" x2="1345" y2="179.5" stroke="#f23645" stroke-width="1" stroke-dasharray="1 2"/>
</svg>
<div class="abs" style="left:0;top:0;width:1408px;height:1px;background:#e0e3eb"></div>
<!-- axes -->
<div class="t" style="left:1354.55px;top:1.99px;font-size:15.6px;line-height:21px;color:#131722;transform:scaleX(0.9648);">2404.0</div>
<div class="t" style="left:1354.55px;top:45.99px;font-size:15.6px;line-height:21px;color:#131722;transform:scaleX(0.9648);">2403.0</div>
<div class="t" style="left:1354.55px;top:89.99px;font-size:15.6px;line-height:21px;color:#131722;transform:scaleX(0.9648);">2402.0</div>
<div class="t" style="left:1354.55px;top:133.99px;font-size:15.6px;line-height:21px;color:#131722;transform:scaleX(0.9648);">2401.0</div>
<div class="t" style="left:1354.55px;top:221.99px;font-size:15.6px;line-height:21px;color:#131722;transform:scaleX(0.9648);">2399.0</div>
<div class="t" style="left:1354.55px;top:265.99px;font-size:15.6px;line-height:21px;color:#131722;transform:scaleX(0.9648);">2398.0</div>
<div class="t" style="left:1354.55px;top:309.99px;font-size:15.6px;line-height:21px;color:#131722;transform:scaleX(0.9648);">2397.0</div>
<div class="t" style="left:1354.55px;top:353.99px;font-size:15.6px;line-height:21px;color:#131722;transform:scaleX(0.9648);">2396.0</div>
<div class="t" style="left:1354.55px;top:397.99px;font-size:15.6px;line-height:21px;color:#131722;transform:scaleX(0.9648);">2395.0</div>
<div class="t" style="left:1354.55px;top:441.99px;font-size:15.6px;line-height:21px;color:#131722;transform:scaleX(0.9648);">2394.0</div>
<div class="t" style="left:1354.55px;top:486.99px;font-size:15.6px;line-height:21px;color:#131722;transform:scaleX(0.9648);">2393.0</div>
<div class="t" style="left:1354.55px;top:530.99px;font-size:15.6px;line-height:21px;color:#131722;transform:scaleX(0.9648);">2392.0</div>
<div class="t" style="left:1354.55px;top:574.99px;font-size:15.6px;line-height:21px;color:#131722;transform:scaleX(0.9648);">2391.0</div>
<div class="t" style="left:1354.55px;top:618.99px;font-size:15.6px;line-height:21px;color:#131722;transform:scaleX(0.9648);">2390.0</div>
<div class="t" style="left:1378.08px;top:663.99px;font-size:15.6px;line-height:21px;color:#131722;transform:scaleX(1.0454);">9.0</div>
<div class="t" style="left:-16.85px;top:688.04px;font-size:15.6px;line-height:21px;color:#131722;transform:scaleX(0.9668);">22:00</div>
<div class="t" style="left:173.65px;top:688.04px;font-size:15.6px;line-height:21px;color:#131722;transform:scaleX(0.9668);">22:30</div>
<div class="t" style="left:361.75px;top:688.04px;font-size:15.6px;line-height:21px;color:#131722;transform:scaleX(0.9668);">23:00</div>
<div class="t" style="left:550.35px;top:688.04px;font-size:15.6px;line-height:21px;color:#131722;transform:scaleX(0.9668);">23:30</div>
<div class="t" style="left:749.15px;top:688.04px;font-size:15.6px;line-height:21px;color:#131722;font-weight:bold;transform:scaleX(0.9668);">16</div>
<div class="t" style="left:927.20px;top:688.04px;font-size:15.6px;line-height:21px;color:#131722;transform:scaleX(0.9668);">00:30</div>
<div class="t" style="left:1116.05px;top:688.04px;font-size:15.6px;line-height:21px;color:#131722;transform:scaleX(0.9668);">01:00</div>
<div class="t" style="left:1304.65px;top:688.04px;font-size:15.6px;line-height:21px;color:#131722;transform:scaleX(0.9668);">01:30</div>
<!-- last price label -->
<div class="abs" style="left:1345px;top:169px;width:62px;height:39px;background:#f23645;border-radius:0 3px 3px 0"></div>
<div class="t" style="left:1355.55px;top:170.03px;font-size:15.5px;line-height:21px;color:#fff;font-weight:bold;transform:scaleX(0.9645);">2400.2</div>
<div class="t" style="left:1355.39px;top:188.64px;font-size:14.9px;line-height:20px;color:rgba(255,255,255,0.88);transform:scaleX(1.0220);">00:32</div>
<!-- volume label -->
<div class="abs" style="left:1345px;top:659px;width:33px;height:21px;background:#ef5350;border-radius:0 3px 3px 0"></div>
<div class="t" style="left:1355.66px;top:659.83px;font-size:15.5px;line-height:21px;color:#fff;font-weight:bold;transform:scaleX(0.9379);">24</div>
<!-- settings icon -->
<svg class="abs" style="left:1369px;top:689px" width="21" height="18" viewBox="0 0 21 18">
<path d="M1.5 9 L5.8 1.5 L15.2 1.5 L19.5 9 L15.2 16.5 L5.8 16.5 Z" fill="none" stroke="#131722" stroke-width="1.3" stroke-linejoin="round"/>
<circle cx="10.5" cy="9" r="2.45" fill="none" stroke="#131722" stroke-width="1.2"/>
</svg>
<!-- legend -->
<svg class="abs" style="left:11px;top:9px" width="24" height="24" viewBox="0 0 24 24">
<circle cx="11.6" cy="11.9" r="11.1" fill="#d49b00"/>
<path d="M9.1 6.85 L14.1 6.85 L16.1 10.7 L7.1 10.7 Z" fill="#fff"/>
<path d="M5.1 12 L8.9 12 L11 16 L2.9 16 Z" fill="#fff"/>
<path d="M13.3 12 L17.9 12 L20.3 16 L12.05 16 Z" fill="#fff"/>
</svg>
<div class="t" style="left:38.32px;top:9.20px;font-size:20.5px;line-height:27px;color:#131722;transform:scaleX(0.9593);">Gold Futures</div><div class="t" style="left:156.00px;top:8.20px;font-size:20.5px;line-height:27px;color:#131722;transform:scaleX(1.3000);">·</div><div class="t" style="left:167.84px;top:9.20px;font-size:20.5px;line-height:27px;color:#131722;transform:scaleX(0.8281);">1</div><div class="t" style="left:181.30px;top:8.20px;font-size:20.5px;line-height:27px;color:#131722;transform:scaleX(1.3000);">·</div><div class="t" style="left:192.86px;top:9.20px;font-size:20.5px;line-height:27px;color:#131722;transform:scaleX(0.8207);">COMEX</div>
<div class="abs" style="left:274px;top:10px;width:50px;height:22px;border-radius:11px;overflow:hidden">
  <div class="abs" style="left:0;top:0;width:25px;height:22px;background:#dcf2ee"></div>
  <div class="abs" style="left:25px;top:0;width:25px;height:22px;background:#ffdcaa"></div>
  <div class="abs" style="left:8px;top:6px;width:10px;height:10px;border-radius:5px;background:#089981"></div>
</div>
<div class="t" style="left:305.00px;top:11.08px;font-size:16.5px;line-height:22px;color:#f57c00;font-weight:bold;transform:scaleX(0.8644);">D</div>
<div class="t" style="left:343.22px;top:11.89px;font-size:15.6px;line-height:21px;color:#131722;transform:scaleX(1.0000);">O</div><div class="t" style="left:355.60px;top:11.89px;font-size:15.6px;line-height:21px;color:#f23645;transform:scaleX(1.0222);">2400.7</div><div class="t" style="left:411.35px;top:11.89px;font-size:15.6px;line-height:21px;color:#131722;transform:scaleX(1.0000);">H</div><div class="t" style="left:423.70px;top:11.89px;font-size:15.6px;line-height:21px;color:#f23645;transform:scaleX(1.0222);">2400.7</div><div class="t" style="left:479.55px;top:11.89px;font-size:15.6px;line-height:21px;color:#131722;transform:scaleX(1.0000);">L</div><div class="t" style="left:489.10px;top:11.89px;font-size:15.6px;line-height:21px;color:#f23645;transform:scaleX(1.0222);">2400.0</div><div class="t" style="left:545.32px;top:11.89px;font-size:15.6px;line-height:21px;color:#131722;transform:scaleX(1.0000);">C</div><div class="t" style="left:556.72px;top:11.89px;font-size:15.6px;line-height:21px;color:#f23645;transform:scaleX(1.0005);">2400.2</div><div class="t" style="left:612.20px;top:11.89px;font-size:15.6px;line-height:21px;color:#f23645;transform:scaleX(1.0263);">−0.6</div><div class="t" style="left:649.19px;top:11.89px;font-size:15.6px;line-height:21px;color:#f23645;transform:scaleX(0.9745);">(−0.02%)</div>
<div class="abs" style="left:10px;top:41px;width:68px;height:30px;border:1px solid #f23645;border-radius:5px"></div>
<div class="t" style="left:19.00px;top:47.19px;font-size:15.6px;line-height:21px;color:#f23645;transform:scaleX(1.0243);">2400.3</div>
<div class="t" style="left:87.62px;top:47.19px;font-size:15.6px;line-height:21px;color:#131722;transform:scaleX(0.9369);">0.2</div>
<div class="abs" style="left:118px;top:41px;width:68px;height:30px;border:1px solid #2962ff;border-radius:5px"></div>
<div class="t" style="left:126.95px;top:47.19px;font-size:15.6px;line-height:21px;color:#2962ff;transform:scaleX(1.0319);">2400.5</div>
<div class="t" style="left:10.94px;top:80.92px;font-size:16.4px;line-height:22px;color:#131722;transform:scaleX(0.9961);">Vol</div><div class="t" style="left:42.35px;top:81.89px;font-size:15.6px;line-height:21px;color:#ef5350;transform:scaleX(1.0891);">24</div>
<div class="abs" style="left:11px;top:109px;width:36px;height:25px;border:1px solid #d1d4dc;border-radius:4px;background:#fff"></div>
<svg class="abs" style="left:22px;top:117px" width="13" height="8" viewBox="0 0 13 8"><path d="M1.1 6.4 L6.3 1.9 L11.5 6.4" fill="none" stroke="#131722" stroke-width="1.5"/></svg>
<!-- TradingView logo -->
<svg class="abs" style="left:0;top:630px" width="60" height="40" viewBox="0 630 60 40">
<path d="M15.1 643.6 H29.9 V662.6 H22.1 V650.8 H15.1 Z" fill="#131722"/>
<circle cx="36.2" cy="647.3" r="3.6" fill="#131722"/>
<path d="M42.4 643.6 H52.2 L44.8 662.6 H36.2 Z" fill="#131722"/>
</svg>
<div class="t" style="left:60.94px;top:635.74px;font-size:27.0px;line-height:36px;color:#131722;font-weight:bold;transform:scaleX(0.9531);">TradingView</div>
<!-- lightning -->
<svg class="abs" style="left:1264px;top:648px" width="31" height="31" viewBox="0 0 31 31">
<circle cx="15.6" cy="15.3" r="14" fill="#fff"/>
<circle cx="15.6" cy="15.3" r="12.3" fill="#fff" stroke="#9c27b0" stroke-width="1.8"/>
<path d="M19.7 8.6 L21 9.8 L15.8 14.2 L21.8 14.2 L12.5 22.6 L11.2 21.3 L16.3 16.6 L9.6 16.6 Z" fill="#9c27b0"/>
</svg>
</body></html>
